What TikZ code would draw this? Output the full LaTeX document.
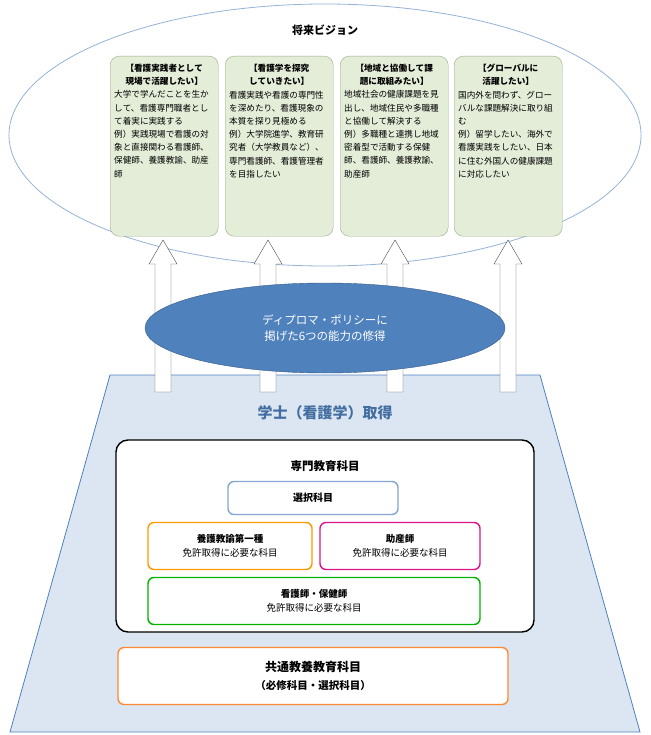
\documentclass[tikz,border=0pt]{standalone}
\usepackage{fontspec}
\setmainfont{Noto Sans CJK JP}
\XeTeXlinebreaklocale "ja"
\XeTeXlinebreakskip=0pt plus 1pt
\usetikzlibrary{positioning}
\definecolor{vgreen}{HTML}{E4EDD8}
\definecolor{vgreenline}{HTML}{9BAA88}
\definecolor{dpblue}{HTML}{4F81BD}
\definecolor{trapfill}{HTML}{DCE6F2}
\tikzset{
 vbox/.style={draw=vgreenline,fill=vgreen,rounded corners=9pt,minimum width=108pt,minimum height=180pt,anchor=north west},
 vtext/.style={anchor=north,align=left,inner sep=0pt,text width=100pt,font=\fontsize{8.6}{13.2}\selectfont},
 kbox/.style={draw=#1,line width=1.4pt,fill=white,rounded corners=6pt,align=center},
}
\newcommand{\uparr}[3]{% x, y bottom, y top
 \draw[fill=white,draw=black!70](#1-8,#2)--(#1-8,#3+24)--(#1-14,#3+24)--(#1,#3)--(#1+14,#3+24)--(#1+8,#3+24)--(#1+8,#2)--cycle;}
\newcommand{\vhead}[1]{{\centering\textbf{#1}\par}\raggedright}
\begin{document}
\begin{tikzpicture}[x=1pt,y=-1pt]
\useasboundingbox (0,0) rectangle (650,735);
%vision
\draw[draw=dpblue!60,fill=white,line width=0.8pt](325,135) ellipse (316 and 131);
\node[font=\bfseries\fontsize{11}{13}\selectfont] (title) at (325,30) {将来ビジョン};
\node[vbox] (v1) at (110,56) {};
\node[vbox] (v2) at (225,56) {};
\node[vbox] (v3) at (340,56) {};
\node[vbox] (v4) at (454,56) {};
\node[vtext] (t1) at ([yshift=-8pt]v1.north) {\vhead{【看護実践者として\\現場で活躍したい】}大学で学んだことを生かして、看護専門職者として着実に実践する\par 例）実践現場で看護の対象と直接関わる看護師、保健師、養護教諭、助産師\par};
\node[vtext] (t2) at ([yshift=-8pt]v2.north) {\vhead{【看護学を探究\\していきたい】}看護実践や看護の専門性を深めたり、看護現象の本質を探り見極める\par 例）大学院進学、教育研究者（大学教員など）、専門看護師、看護管理者を目指したい\par};
\node[vtext] (t3) at ([yshift=-8pt]v3.north) {\vhead{【地域と協働して課\\題に取組みたい】}地域社会の健康課題を見出し、地域住民や多職種と協働して解決する\par 例）多職種と連携し地域密着型で活動する保健師、看護師、養護教諭、助産師\par};
\node[vtext] (t4) at ([yshift=-8pt]v4.north) {\vhead{【グローバルに\\活躍したい】}国内外を問わず、グローバルな課題解決に取り組む\par 例）留学したい、海外で看護実践をしたい、日本に住む外国人の健康課題に対応したい\par};
%base
\draw[fill=trapfill,draw=dpblue,line width=0.8pt](110,375)--(540,375)--(640,732)--(10,732)--cycle;
%arrows
\uparr{163}{392}{240}
\uparr{268}{392}{240}
\uparr{395}{392}{240}
\uparr{508}{392}{240}
%diploma
\draw[fill=dpblue,draw=dpblue!70!black](325,328) ellipse (180 and 45);
\node[text=white,align=center,font=\fontsize{11.5}{16}\selectfont] (dp) at (325,328) {ディプロマ・ポリシーに\\掲げた6つの能力の修得};
\node[text=dpblue!85!black,font=\bfseries\fontsize{15}{18}\selectfont] (deg) at (325,413) {学士（看護学）取得};
\draw[fill=white,line width=1.4pt,rounded corners=12pt](116,440) rectangle (534,632);
\node[font=\bfseries\fontsize{11.5}{14}\selectfont] (sen) at (325,466) {専門教育科目};
\node[kbox=dpblue!70,minimum width=170pt,minimum height=33pt,font=\bfseries\fontsize{10}{12}\selectfont] (sel) at (313,498) {選択科目};
\node[kbox=orange!80!yellow,minimum width=164pt,minimum height=47pt,font=\fontsize{9.5}{14}\selectfont] (yogo) at (230,546) {\textbf{養護教諭第一種}\\免許取得に必要な科目};
\node[kbox=magenta!90!black,minimum width=160pt,minimum height=47pt,font=\fontsize{9.5}{14}\selectfont] (jos) at (400,546) {\textbf{助産師}\\免許取得に必要な科目};
\node[kbox=green!70!black,minimum width=332pt,minimum height=47pt,font=\fontsize{9.5}{14}\selectfont] (kan) at (314,601) {\textbf{看護師・保健師}\\免許取得に必要な科目};
\node[kbox=orange!85!red!80,minimum width=390pt,minimum height=57pt,font=\bfseries\fontsize{12}{18}\selectfont] (kyo) at (313,676) {共通教養教育科目\\{\fontsize{10.5}{14}\selectfont（必修科目・選択科目）}};
\end{tikzpicture}
\end{document}
